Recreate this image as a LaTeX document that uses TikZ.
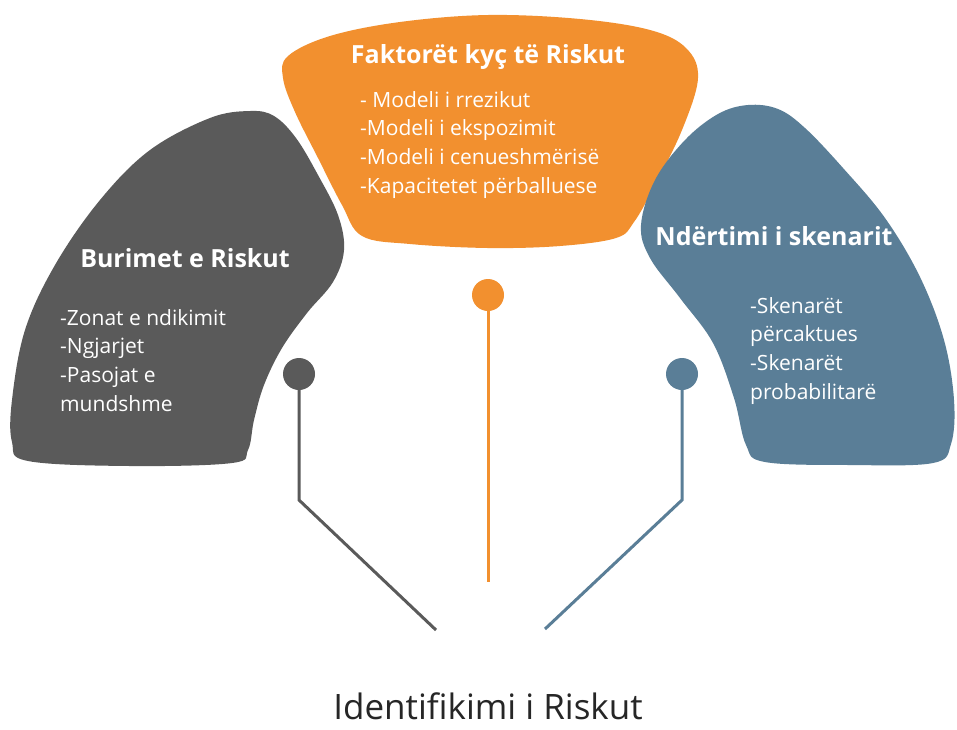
\documentclass[tikz,border=0pt]{standalone}
\usepackage{fontspec}
\setmainfont{Open Sans}
\definecolor{orng}{HTML}{F2902F}
\definecolor{gry}{HTML}{5A5A5A}
\definecolor{blu}{HTML}{5A7E97}
\begin{document}
\begin{tikzpicture}[x=1pt,y=-1pt,
  blob/.style={smooth cycle, tension=0.6},
  head/.style={text=white, font=\bfseries\fontsize{25}{29}\selectfont, inner sep=0pt},
  items/.style={text=white, font=\fontsize{21}{28.7}\selectfont, align=left, inner sep=0pt, anchor=north west},
  dot/.style={circle, minimum size=32pt, inner sep=0pt, fill=#1},
  link/.style={line width=3pt, draw=#1}]
\useasboundingbox[fill=white] (0,0) rectangle (957,729);

% orange shape
\fill[orng] plot[blob] coordinates {(288,56) (330,36) (400,22) (488,15) (580,19) (650,30) (686,48) (698,78) (682,130) (655,185) (634,222) (616,238) (560,246) (488,248) (410,244) (362,236) (342,205) (318,158) (295,112) (283,78)};
% gray shape
\fill[gry] plot[blob] coordinates {(250,111) (274,116) (296,138) (318,175) (338,215) (344,250) (333,282) (307,313) (282,348) (264,385) (254,420) (248,450) (232,463) (130,466) (28,461) (12,442) (12,400) (25,330) (55,265) (100,200) (150,150) (210,118)};
% blue shape
\fill[blu] plot[blob] coordinates {(748,105) (778,109) (805,128) (843,168) (885,218) (920,277) (944,340) (954,400) (951,444) (933,463) (850,465) (765,462) (746,445) (734,398) (713,343) (680,298) (650,258) (641,225) (655,180) (685,140) (718,114)};

% headings
\node[head] (h1) at (488,57) {Faktorët kyç të Riskut};
\node[head] (h2) at (185,258) {Burimet e Riskut};
\node[head] (h3) at (774,236) {Ndërtimi i skenarit};

% lists
\node[items] (l1) at (360,91) {- Modeli i rrezikut\\-Modeli i ekspozimit\\-Modeli i cenueshmërisë\\-Kapacitetet përballuese};
\node[items] (l2) at (60,309) {-Zonat e ndikimit\\-Ngjarjet\\-Pasojat e\\mundshme};
\node[items] (l3) at (750,297) {-Skenarët\\përcaktues\\-Skenarët\\probabilitarë};

% dots and connectors
\node[dot=orng] (d1) at (488,295) {};
\node[dot=gry] (d2) at (299,374) {};
\node[dot=blu] (d3) at (682,374) {};
\coordinate (e1) at (488,582);
\coordinate (k2) at (299,500);
\coordinate (e2) at (436,630);
\coordinate (k3) at (682,500);
\coordinate (e3) at (545,629);
\draw[link=orng] (d1.center) -- (e1);
\draw[link=gry] (d2.center) -- (k2) -- (e2);
\draw[link=blu] (d3.center) -- (k3) -- (e3);

% title
\node[text=black!85, font=\fontsize{35}{40}\selectfont, inner sep=0pt, anchor=base] (t) at (488,719) {Identifikimi i Riskut};
\end{tikzpicture}
\end{document}
